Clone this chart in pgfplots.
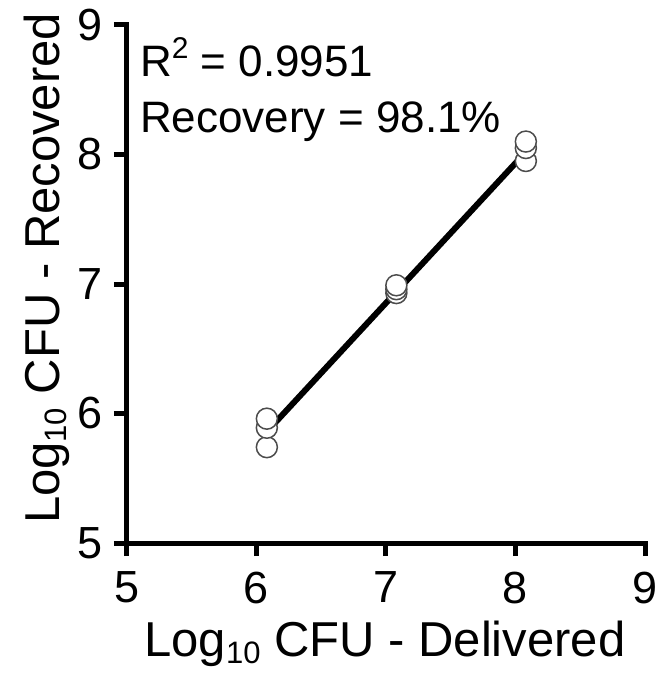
\documentclass[border=0pt]{standalone}
\usepackage{pgfplots}
\pgfplotsset{compat=1.18}
\usepackage{fontspec}
\setmainfont{Liberation Sans}
\newcommand{\sub}[1]{\raisebox{-7pt}{\fontsize{31}{31}\selectfont #1}}
\begin{document}
\fontsize{44}{52}\selectfont
\begin{tikzpicture}
\useasboundingbox (-127pt,-130pt) rectangle (534pt,543pt);
\begin{axis}[
  at={(0pt,0pt)}, anchor=south west,
  scale only axis, width=518pt, height=518pt,
  xmin=5, xmax=9, ymin=5, ymax=9,
  axis x line*=bottom, axis y line*=left,
  axis line style={line width=5pt, line cap=rect},
  xtick={5,6,7,8,9}, ytick={5,6,7,8,9},
  tick align=outside, major tick length=13pt,
  tick style={line width=5pt, black},
  /pgf/number format/assume math mode=true,
  ticklabel style={font=\fontsize{45}{52}\selectfont},
  xticklabel style={yshift=-1pt},
  yticklabel style={xshift=3pt},
  xlabel={Log\sub{10} CFU - Delivered},
  ylabel={Log\sub{10} CFU - Recovered},
  label style={font=\fontsize{49}{56}\selectfont},
  xlabel style={at={([yshift=-113pt]axis description cs:0.498,0)}, anchor=base},
  ylabel style={at={([xshift=-67pt]axis description cs:0,0.53)}, anchor=base},
  clip=false,
]
\addplot[line width=6pt, black] coordinates {(6.08,5.86) (8.08,8.02)};
\addplot[only marks, mark=*, mark size=10.5pt,
  mark options={fill=white, draw=black!70, line width=1.5pt}] coordinates {
  (6.08,5.74) (6.08,5.89) (6.08,5.96)
  (7.08,6.93) (7.08,6.96) (7.08,6.99)
  (8.08,7.95) (8.08,8.05) (8.08,8.10)
};
\node[anchor=base west, inner sep=0pt] at (axis cs:5.10,8.60) {R\raisebox{0.42em}{\fontsize{30}{30}\selectfont 2} = 0.9951};
\node[anchor=base west, inner sep=0pt] at (axis cs:5.10,8.17) {Recovery = 98.1\%};
\end{axis}
\end{tikzpicture}
\end{document}
